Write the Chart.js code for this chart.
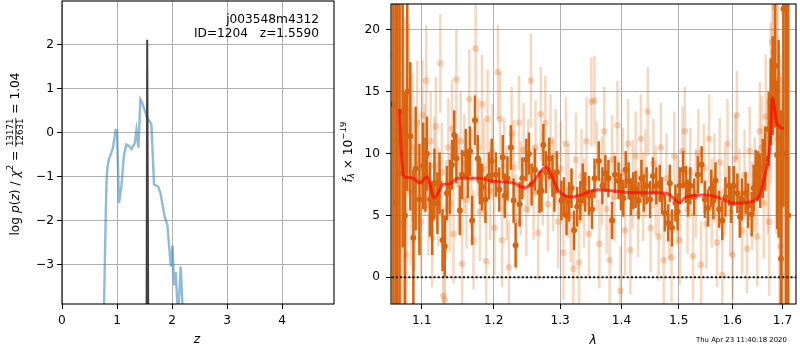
<!DOCTYPE html>
<html>
<head>
<meta charset="utf-8">
<script src="https://cdn.jsdelivr.net/npm/chart.js@4.4.1/dist/chart.umd.min.js"></script>
<style>
body{margin:0;background:#fff;width:800px;height:350px;overflow:hidden;position:relative}
.caixa{position:absolute;top:0;height:350px}
#caixaPz{left:0;width:340px}
#caixaSpec{left:340px;width:460px}
</style>
</head>
<body>
<div class="caixa" id="caixaPz"><canvas id="graficoPz"></canvas></div>
<div class="caixa" id="caixaSpec"><canvas id="graficoSpec"></canvas></div>
<script>
// painel esquerdo: log p(z)
const pzZ = [0.74,0.764,0.789,0.807,0.825,0.849,0.898,0.927,0.976,1.0,1.036,1.08,1.127,1.171,1.22,1.262,1.322,1.353,1.389,1.425,1.462,1.545,1.625,1.673,1.745,1.789,1.867,1.916,1.978,2.009,2.04,2.067,2.11,2.158,2.2,2.25];
const pzLog = [-10,-3.95,-2.29,-1.2,-0.8,-0.62,-0.45,-0.34,0.06,0.04,-1.6,-1.22,-0.5,-0.27,-0.3,-0.37,-0.24,0.06,-0.34,0.76,0.67,0.35,0.19,-1.18,-1.22,-1.37,-1.91,-2.1,-3.05,-2.57,-3.47,-3.17,-4.2,-3.05,-4.2,-10];
const picoZ = [1.527,1.549,1.563,1.585];
const picoLog = [-10,2.12,2.12,-10];
const ticksZ = [0,1,2,3,4];
const ticksPz = [-3,-2,-1,0,1,2];

// painel direito: espectro
const darkWave = [1.063,1.066,1.068,1.071,1.075,1.078,1.081,1.085,1.089,1.092,
  1.097,1.102,1.105,1.107,1.111,1.114,1.117,1.121,1.124,1.128,
  1.131,1.134,1.138,1.141,1.144,1.147,1.152,1.155,1.160,1.163,
  1.166,1.169,1.173,1.177,1.180,1.183,1.188,1.193,1.197,1.203,
  1.208,1.213,1.216,1.220,1.225,1.229,1.232,1.238,1.242,1.248,
  1.252,1.256,1.261,1.268,1.271,1.274,1.278,1.283,1.288,1.291,
  1.295,1.302,1.306,1.310,1.314,1.318,1.322,1.327,1.332,1.336,
  1.340,1.346,1.351,1.355,1.362,1.368,1.373,1.378,1.384,1.389,
  1.395,1.399,1.403,1.407,1.412,1.416,1.420,1.424,1.429,1.434,
  1.438,1.443,1.449,1.454,1.460,1.466,1.470,1.475,1.481,1.484,
  1.488,1.494,1.498,1.502,1.508,1.513,1.517,1.521,1.528,1.535,
  1.542,1.548,1.554,1.560,1.564,1.568,1.575,1.581,1.587,1.594,
  1.598,1.603,1.610,1.615,1.619,1.626,1.631,1.638,1.642,1.646,
  1.651,1.655,1.660,1.665,1.672,1.676,1.680,1.685,1.689,1.692,
  1.697,1.702,1.707,1.712];
const darkFlux = [14,6,11,8.4,13.4,5,15.0,11.4,3.2,8.8,
  6.3,9.0,8.3,10.0,6.3,4.8,7.6,6.0,7.6,3.0,
  2.5,6.8,7.3,9.1,11.5,9.6,5.4,8.3,10.0,8.4,
  10.2,4.6,12.7,9.6,7.8,7.3,6.3,8.2,9.4,8.3,
  7.1,9.7,6.6,8.0,10.5,6.2,2.6,5.9,8.0,9.5,
  10.0,7.5,8.7,6.9,7.0,10.7,8.5,9.6,8.2,7.0,
  8.5,6.2,6.5,5.0,6.1,7.2,3.8,5.7,6.2,7.6,
  6.9,6.6,5.5,8.0,9.4,7.4,8.4,8.0,4.6,8.3,
  7.8,6.9,6.4,8.7,7.8,6.5,7.0,7.1,6.2,8.0,
  6.8,7.4,6.3,8.2,7.4,7.6,6.6,5.2,4.4,7.6,
  4.0,6.0,5.3,7.4,8.7,7.5,6.4,7.4,6.5,8.3,
  9.1,6.3,5.6,7.2,6.2,7.8,5.5,4.6,6.5,7.4,
  6.0,7.4,6.8,4.9,6.3,6.8,5.8,5.1,7.2,8.3,
  8.2,7.8,8.8,9.6,12.0,14.2,15.5,17.1,9.9,11.2,
  1.5,21.7,10,5];
const darkErr = [25,22,18,14,11,10,8,6,5.5,5,
  4.5,3.5,3,3,3,3,2.8,2.5,2.5,2.5,
  2.5,2.2,2.2,2,2,2,2,2,2,2,
  2,2,2,1.9,1.9,1.9,1.9,1.9,1.8,1.8,
  1.8,1.8,1.8,1.8,1.8,1.8,1.8,1.8,1.7,1.7,
  1.7,1.7,1.7,1.7,1.7,1.7,1.7,1.7,1.7,1.7,
  1.7,1.6,1.6,1.6,1.6,1.6,1.6,1.6,1.6,1.6,
  1.6,1.6,1.6,1.6,1.6,1.5,1.5,1.5,1.5,1.5,
  1.5,1.5,1.5,1.5,1.5,1.5,1.5,1.5,1.5,1.5,
  1.5,1.5,1.5,1.5,1.5,1.5,1.5,1.5,1.5,1.5,
  1.5,1.5,1.5,1.5,1.5,1.5,1.5,1.5,1.5,1.5,
  1.5,1.5,1.5,1.5,1.5,1.5,1.5,1.6,1.6,1.6,
  1.6,1.6,1.6,1.7,1.7,1.7,1.8,1.8,1.9,2,
  2,2.2,2.4,2.6,3,3.5,4,5,6,8,
  12,16,20,25];

const lightWave = [1.062,1.065,1.067,1.070,1.073,1.076,1.078,1.080,1.083,1.086,
  1.088,1.091,1.094,1.096,1.099,1.101,1.104,1.106,1.109,1.112,
  1.114,1.117,1.119,1.122,1.125,1.127,1.129,1.131,1.133,1.136,
  1.138,1.141,1.143,1.147,1.150,1.153,1.155,1.158,1.161,1.165,
  1.168,1.171,1.174,1.177,1.180,1.183,1.186,1.189,1.191,1.195,
  1.198,1.201,1.206,1.209,1.212,1.215,1.219,1.222,1.226,1.229,
  1.233,1.237,1.240,1.244,1.248,1.251,1.255,1.259,1.262,1.266,
  1.270,1.273,1.277,1.281,1.285,1.289,1.293,1.297,1.301,1.305,
  1.309,1.313,1.317,1.321,1.325,1.330,1.334,1.338,1.342,1.346,
  1.350,1.355,1.359,1.363,1.367,1.371,1.375,1.380,1.384,1.388,
  1.393,1.398,1.402,1.406,1.411,1.415,1.419,1.424,1.428,1.433,
  1.437,1.441,1.445,1.450,1.455,1.459,1.464,1.468,1.473,1.478,
  1.483,1.487,1.492,1.497,1.502,1.507,1.511,1.516,1.521,1.526,
  1.531,1.536,1.541,1.546,1.551,1.556,1.561,1.566,1.571,1.576,
  1.581,1.586,1.591,1.596,1.601,1.606,1.609,1.614,1.619,1.624,
  1.629,1.634,1.639,1.644,1.649,1.654,1.658,1.662,1.666,1.670,
  1.673,1.676,1.679,1.682,1.685,1.688,1.691,1.694,1.696,1.699,
  1.702];
const lightFlux = [18,9,21,16.4,10,4.3,12,1.8,13.5,7,
  10.5,5.5,12.5,7.8,4.5,13.1,9.5,15.9,5.8,11,
  3.2,9,12.2,6.5,17.3,8.5,-1.5,-1.8,5.5,10.5,
  6.0,12.0,3.5,16.0,7.5,11.0,1.1,9.2,6.3,14.4,
  8.0,3.0,18.5,10.5,5.3,14.0,8.8,1.3,12.8,7.0,
  10.2,4.0,16.6,12.8,3.0,9.0,6.8,0.8,11.6,8.9,
  4.5,12.5,7.2,10.3,5.5,9.0,15.9,6.8,10.5,3.6,
  13.2,8.0,12.5,5.9,11.0,7.5,9.8,4.5,8.8,2.0,
  10.8,7.0,5.0,0.7,9.5,1.2,8.2,6.0,11.0,3.5,
  14.2,14.3,9.0,2.7,7.8,11.8,5.5,1.4,9.5,6.5,
  12.3,-1.1,8.5,3.8,10.8,2.2,7.5,9.8,5.2,11.2,
  6.5,8.4,13.4,4.0,9.2,7.0,3.3,10.5,1.4,8.0,
  5.0,1.6,9.8,6.2,3.0,10.2,11.8,5.5,8.5,1.7,
  6.8,10.0,1.0,8.8,4.3,11.2,6.0,8.0,2.8,9.3,
  0.2,7.0,10.8,5.3,1.8,9.6,13.1,6.8,3.8,8.3,
  2.3,10.2,5.8,7.5,3.3,11.8,10.5,6.0,13.0,9.0,
  4.5,14.1,19.0,18.2,21.8,12.5,16.0,6.0,2.5,0.1,
  13.0];
const lightErr = [20,18,16,14,12,10,9,8,7,6,
  6,5,5,5,4.5,4.5,4.5,4.5,4,4,
  4,4,4,4,4,4,4,4,4,4,
  4,4,4,4,4,4,4,4,4,4,
  4,4,4,4,4,4,4,4,4,4,
  3.8,3.8,3.8,3.8,3.8,3.8,3.8,3.8,3.8,3.8,
  3.8,3.8,3.8,3.8,3.8,3.8,3.8,3.8,3.8,3.8,
  3.8,3.8,3.8,3.8,3.8,3.8,3.8,3.8,3.8,3.8,
  3.8,3.8,3.8,3.8,3.8,3.8,3.8,3.6,3.6,3.6,
  3.6,3.6,3.6,3.6,3.6,3.6,3.6,3.6,3.6,3.6,
  3.6,3.6,3.6,3.6,3.6,3.6,3.6,3.6,3.6,3.6,
  3.6,3.6,3.6,3.6,3.6,3.6,3.6,3.6,3.6,3.6,
  3.6,3.6,3.6,3.6,3.6,3.6,3.6,3.6,3.6,3.6,
  3.6,3.6,3.6,3.6,3.6,3.6,3.6,3.6,3.6,3.6,
  3.6,3.6,3.6,3.6,3.6,3.6,3.6,3.6,3.6,3.6,
  3.6,3.6,3.6,3.8,4,4,4.2,4.5,5,5.5,
  6,6.5,7,7.5,8,9,10,12,14,16,
  20];

const modeloWave = [1.071,1.074,1.078,1.087,1.098,1.107,1.117,1.129,1.138,1.149,1.180,1.199,1.228,1.245,1.257,1.278,1.298,1.319,1.330,1.362,1.400,1.429,1.463,1.481,1.502,1.511,1.541,1.566,1.607,1.646,1.666,1.676,1.679,1.689,1.703];
const modeloFlux = [13.6,9.4,8.1,8.05,7.64,8.1,6.43,7.5,7.56,8.0,8.0,7.76,7.64,7.24,7.64,8.9,6.97,6.49,6.62,7.07,6.91,6.83,6.83,6.75,6.03,6.43,6.65,6.56,5.98,6.24,8.5,11.5,14.5,12.45,12.0];
const zeroWave = [1.05,1.74];
const zeroFlux = [0,0];
const ticksLam = [1.1,1.2,1.3,1.4,1.5,1.6,1.7];
const ticksFlux = [0,5,10,15,20];

const FONTE = 'DejaVu Sans';
Chart.defaults.font.family = FONTE;
Chart.defaults.font.size = 12.2;
Chart.defaults.color = '#000';

function pontos(xs, ys){
    return xs.map((v, i) => ({x: v, y: ys[i]}));
}

function menos(v){
    return String(v).replace('-', '\u2212');
}

// barras de erro verticais desenhadas pelas escalas do grafico
const barrasErro = {
    id: 'barrasErro',
    beforeDatasetDraw(chart, args){
        const ds = chart.data.datasets[args.index];
        if(!ds.erros){
            return;
        }
        const {ctx, chartArea: a, scales: {x, y}} = chart;
        ctx.save();
        ctx.beginPath();
        ctx.rect(a.left, a.top, a.right - a.left, a.bottom - a.top);
        ctx.clip();
        ctx.strokeStyle = ds.corBarra;
        ctx.lineWidth = ds.larguraBarra;
        ds.data.forEach((p, i) => {
            const px = x.getPixelForValue(p.x);
            ctx.beginPath();
            ctx.moveTo(px, y.getPixelForValue(p.y - ds.erros[i]));
            ctx.lineTo(px, y.getPixelForValue(p.y + ds.erros[i]));
            ctx.stroke();
        });
        ctx.restore();
    }
};

const moldura = {
    id: 'moldura',
    afterDatasetsDraw(chart){
        const {ctx, chartArea: a} = chart;
        ctx.save();
        ctx.strokeStyle = '#000';
        ctx.lineWidth = 1.1;
        ctx.strokeRect(a.left, a.top, a.right - a.left, a.bottom - a.top);
        ctx.restore();
    }
};

// texto com partes (italico, sobrescrito, fracao), girado 90 graus
function desenharPartes(ctx, partes, cx, cy, girar){
    ctx.save();
    ctx.translate(cx, cy);
    if(girar){
        ctx.rotate(-Math.PI / 2);
    }
    ctx.textBaseline = 'middle';
    ctx.textAlign = 'left';
    ctx.fillStyle = '#000';
    let total = 0;
    partes.forEach(p => {
        if(p.frac){
            ctx.font = p.tam + 'px ' + FONTE;
            p.w = Math.max(ctx.measureText(p.frac[0]).width, ctx.measureText(p.frac[1]).width) + 2;
        }else{
            ctx.font = (p.it ? 'italic ' : '') + p.tam + 'px ' + FONTE;
            p.w = ctx.measureText(p.t).width;
        }
        total += p.w;
    });
    let px = -total / 2;
    partes.forEach(p => {
        if(p.frac){
            ctx.font = p.tam + 'px ' + FONTE;
            ctx.textAlign = 'center';
            ctx.fillText(p.frac[0], px + p.w / 2, -5);
            ctx.fillText(p.frac[1], px + p.w / 2, 5.5);
            ctx.textAlign = 'left';
            ctx.lineWidth = 0.8;
            ctx.beginPath();
            ctx.moveTo(px, 0.3);
            ctx.lineTo(px + p.w, 0.3);
            ctx.stroke();
        }else{
            ctx.font = (p.it ? 'italic ' : '') + p.tam + 'px ' + FONTE;
            ctx.fillText(p.t, px, p.dy || 0);
        }
        px += p.w;
    });
    ctx.restore();
}

const textosPz = {
    id: 'textosPz',
    afterDraw(chart){
        const ctx = chart.ctx;
        ctx.save();
        ctx.fillStyle = '#000';
        ctx.font = '12.2px ' + FONTE;
        ctx.textAlign = 'right';
        ctx.textBaseline = 'middle';
        ctx.fillText('j003548m4312', 319, 20);
        ctx.fillText('ID=1204   z=1.5590', 319, 34);
        ctx.textAlign = 'center';
        ctx.font = 'italic 12.2px ' + FONTE;
        ctx.fillText('z', 197, 340);
        ctx.restore();
        desenharPartes(ctx, [
            {t: 'log ', tam: 12.2},
            {t: 'p', tam: 12.2, it: true},
            {t: '(', tam: 12.2},
            {t: 'z', tam: 12.2, it: true},
            {t: ') / ', tam: 12.2},
            {t: '\u03c7', tam: 12.2, it: true},
            {t: '2', tam: 8.6, dy: -5},
            {t: ' = ', tam: 12.2},
            {frac: ['13171', '12631'], tam: 8.6},
            {t: ' = 1.04', tam: 12.2}
        ], 15.5, 154, true);
    }
};

const textosSpec = {
    id: 'textosSpec',
    afterDraw(chart){
        const ctx = chart.ctx;
        ctx.save();
        ctx.fillStyle = '#000';
        ctx.textAlign = 'center';
        ctx.textBaseline = 'middle';
        ctx.font = 'italic 12.2px ' + FONTE;
        ctx.fillText('\u03bb', 253, 341);
        ctx.font = '6.9px ' + FONTE;
        ctx.textAlign = 'left';
        ctx.fillText('Thu Apr 23 11:40:18 2020', 356, 340);
        ctx.restore();
        desenharPartes(ctx, [
            {t: 'f', tam: 12.2, it: true},
            {t: '\u03bb', tam: 8.6, it: true, dy: 3},
            {t: ' \u00d7 10', tam: 12.2},
            {t: '\u221219', tam: 8.6, dy: -5}
        ], 9, 152, true);
    }
};

// tira o recuo automatico que o Chart.js poe para os rotulos das pontas
function semRecuo(s){
    s.paddingTop = 0;
    s.paddingBottom = 0;
    s.paddingLeft = 0;
    s.paddingRight = 0;
}

function eixo(extra){
    return Object.assign({
        grid: {color: '#b0b0b0', lineWidth: 1, tickColor: '#000', tickLength: 5, tickWidth: 1},
        border: {display: false},
        ticks: {color: '#000', maxRotation: 0, autoSkip: false}
    }, extra);
}

const opcoesBase = {
    responsive: true,
    maintainAspectRatio: false,
    animation: false,
    events: [],
    plugins: {legend: {display: false}, tooltip: {enabled: false}}
};

new Chart(document.getElementById('graficoPz'), {
    type: 'scatter',
    data: {
        datasets: [{
            data: pontos(picoZ, picoLog),
            showLine: true,
            borderColor: 'rgba(45,45,45,0.9)',
            borderWidth: 2,
            pointRadius: 0,
            clip: 0,
            order: 0
        }, {
            data: pontos(pzZ, pzLog),
            showLine: true,
            borderColor: 'rgba(31,119,180,0.5)',
            borderWidth: 2.4,
            pointRadius: 0,
            clip: 0,
            order: 1
        }]
    },
    options: Object.assign({}, opcoesBase, {
        layout: {padding: {top: 1, right: 6, left: 0, bottom: 0}},
        scales: {
            x: eixo({
                type: 'linear', min: 0, max: 4.945,
                afterFit: s => { semRecuo(s); s.height = 46; },
                afterBuildTicks: s => { s.ticks = ticksZ.map(v => ({value: v})); },
                ticks: {color: '#000', maxRotation: 0, autoSkip: false, padding: 5, callback: v => menos(v)}
            }),
            y: eixo({
                type: 'linear', min: -3.9, max: 3.0,
                afterFit: s => { semRecuo(s); s.width = 62; },
                afterBuildTicks: s => { s.ticks = ticksPz.map(v => ({value: v})); },
                ticks: {color: '#000', padding: 3, callback: v => menos(v)}
            })
        }
    }),
    plugins: [moldura, textosPz]
});

new Chart(document.getElementById('graficoSpec'), {
    type: 'scatter',
    data: {
        datasets: [{
            data: pontos(zeroWave, zeroFlux),
            showLine: true,
            borderColor: '#111',
            borderWidth: 2,
            borderDash: [2, 2.2],
            pointRadius: 0,
            clip: 0,
            order: 0
        }, {
            data: pontos(modeloWave, modeloFlux),
            showLine: true,
            borderColor: 'rgba(255,0,0,0.65)',
            borderWidth: 3,
            cubicInterpolationMode: 'monotone',
            pointRadius: 0,
            clip: 0,
            order: 1
        }, {
            data: pontos(darkWave, darkFlux),
            erros: darkErr,
            corBarra: 'rgb(215,100,15)',
            larguraBarra: 2.5,
            pointRadius: 3,
            pointBackgroundColor: 'rgb(215,100,15)',
            pointBorderWidth: 0,
            clip: 0,
            order: 2
        }, {
            data: pontos(lightWave, lightFlux),
            erros: lightErr,
            corBarra: 'rgba(225,110,30,0.28)',
            larguraBarra: 2.5,
            pointRadius: 3.3,
            pointBackgroundColor: 'rgba(225,110,30,0.3)',
            pointBorderWidth: 0,
            clip: 0,
            order: 3
        }]
    },
    options: Object.assign({}, opcoesBase, {
        layout: {padding: {top: 1, right: 1, left: 0, bottom: 0}},
        scales: {
            x: eixo({
                type: 'logarithmic', min: 1.060, max: 1.728,
                afterFit: s => { semRecuo(s); s.height = 46; },
                afterBuildTicks: s => { s.ticks = ticksLam.map(v => ({value: v})); },
                ticks: {color: '#000', maxRotation: 0, autoSkip: false, padding: 5, callback: v => Number(v).toFixed(1)}
            }),
            y: eixo({
                type: 'linear', min: -2.16, max: 22.1,
                afterFit: s => { semRecuo(s); s.width = 51; },
                afterBuildTicks: s => { s.ticks = ticksFlux.map(v => ({value: v})); },
                ticks: {color: '#000', padding: 6, callback: v => menos(v)}
            })
        }
    }),
    plugins: [barrasErro, moldura, textosSpec]
});
</script>
</body>
</html>
